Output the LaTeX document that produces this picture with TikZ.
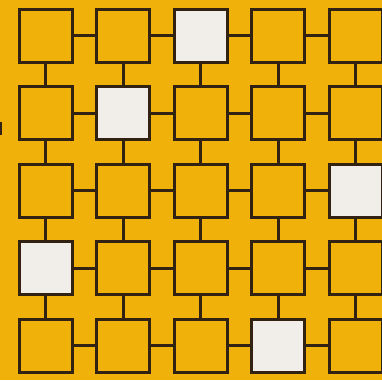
\documentclass[tikz,border=0pt]{standalone}
\definecolor{gridbg}{RGB}{240,177,10}
\definecolor{cellwhite}{RGB}{241,238,234}
\definecolor{cellline}{RGB}{50,34,18}
\tikzset{
  cell/.style={draw=cellline,line width=3pt,minimum size=53pt,inner sep=0pt,fill=gridbg},
  blank/.style={cell,fill=cellwhite},
  link/.style={draw=cellline,line width=3pt},
}
\begin{document}
\begin{tikzpicture}[x=1pt,y=-1pt]
\fill[gridbg] (0,0) rectangle (382,380);
\useasboundingbox (0,0) rectangle (382,380);
% cells
\foreach \r in {0,...,4}
  \foreach \c in {0,...,4}
    \node[cell] (c\r\c) at (45.5+77.5*\c,35.5+77.5*\r) {};
% white cells
\foreach \r/\c in {0/2,1/1,2/4,3/0,4/3}
  \node[blank] (c\r\c) at (45.5+77.5*\c,35.5+77.5*\r) {};
% connectors
\foreach \r in {0,...,4}
  \foreach \c/\n in {0/1,1/2,2/3,3/4} {
    \draw[link] (c\r\c) -- (c\r\n);
    \draw[link] (c\c\r) -- (c\n\r);
  }
% stray mark at the left edge
\draw[link,line width=2pt] (1,122) -- (1,135);
\end{tikzpicture}
\end{document}
